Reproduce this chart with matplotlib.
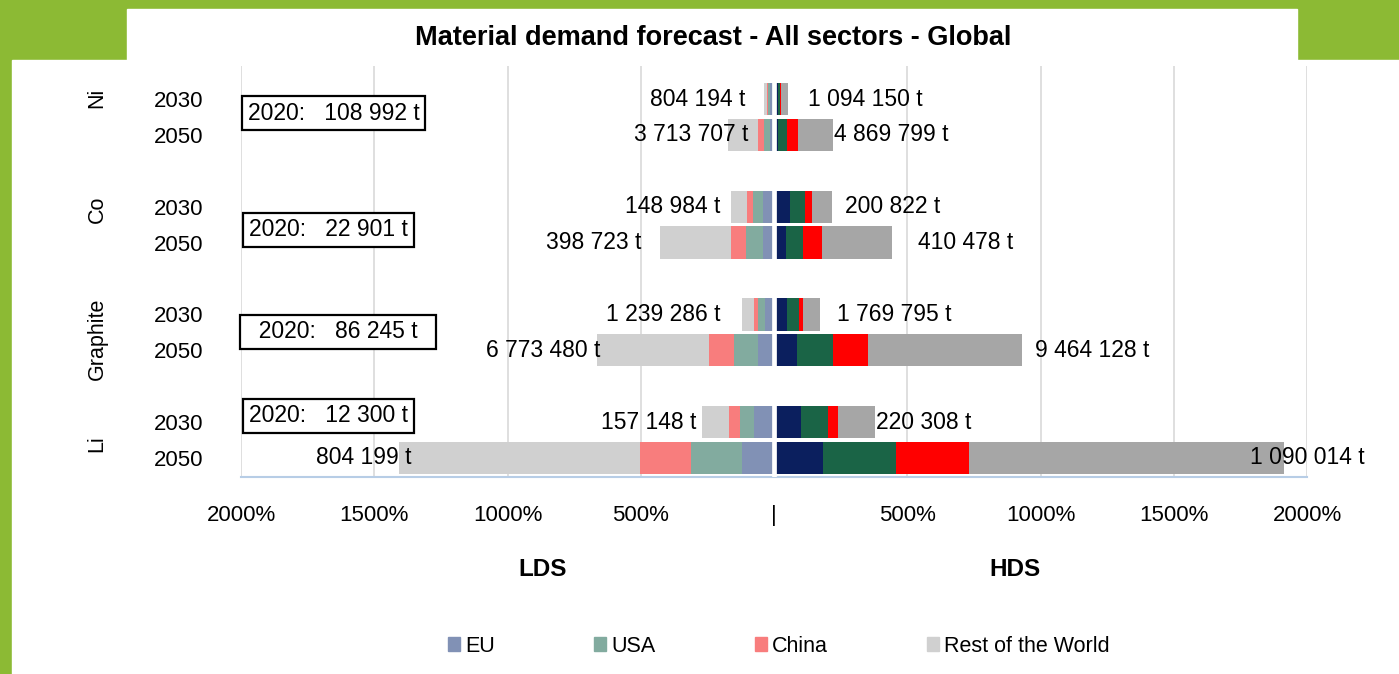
import numpy as np
import matplotlib.pyplot as plt
from matplotlib.patches import Patch, Rectangle

plt.rcParams['font.family'] = ['Liberation Sans', 'DejaVu Sans']

# --- data (growth compared to 2020, in %)

materials = ['Ni', 'Co', 'Graphite', 'Li']
years = ['2030', '2050']
regions = ['EU', 'USA', 'China', 'Rest of the World']

# rows: Ni 2030, Ni 2050, Co 2030, Co 2050, Graphite 2030, Graphite 2050, Li 2030, Li 2050
lds_eu = [15, 15, 40, 40, 34, 61, 74, 121]
lds_usa = [7, 22, 37, 65, 27, 89, 54, 192]
lds_china = [4, 24, 25, 57, 13, 93, 40, 190]
lds_row = [11, 112, 59, 265, 45, 420, 104, 905]

hds_eu = [14, 15, 60, 44, 48, 87, 101, 184]
hds_usa = [9, 34, 56, 66, 47, 133, 102, 273]
hds_china = [3, 40, 25, 69, 15, 134, 37, 273]
hds_row = [25, 134, 75, 265, 63, 575, 140, 1182]

lds_tonnes = ['804 194 t', '3 713 707 t', '148 984 t', '398 723 t',
              '1 239 286 t', '6 773 480 t', '157 148 t', '804 199 t']
hds_tonnes = ['1 094 150 t', '4 869 799 t', '200 822 t', '410 478 t',
              '1 769 795 t', '9 464 128 t', '220 308 t', '1 090 014 t']
base_2020 = ['108 992 t', '22 901 t', '86 245 t', '12 300 t']

xticks = [-2000, -1500, -1000, -500, 0, 500, 1000, 1500, 2000]
xticklabels = ['2000%', '1500%', '1000%', '500%', '|', '500%', '1000%', '1500%', '2000%']

lds_colors = ['#8191b5', '#82ab9f', '#f87d7d', '#d0d0d0']
hds_colors = ['#0b1f5e', '#1a6446', '#ff0000', '#a6a6a6']
green = '#8cba34'

# --- layout helpers (pixels -> figure fraction)

W, H = 1399, 674
def fx(px): return px / W
def fy(py): return 1 - py / H
def px2pct(px): return (px - 774) / 533. * 2000

fig = plt.figure(figsize=(W / 100, H / 100), dpi=100, facecolor=green)

fig.patches.append(Rectangle((fx(127), fy(60)), fx(1297) - fx(127), fy(9) - fy(60),
                             transform=fig.transFigure, color='white', zorder=-2))
fig.patches.append(Rectangle((fx(12), 0), 1 - fx(12), fy(60),
                             transform=fig.transFigure, color='white', zorder=-2))

ax = fig.add_axes((fx(241), fy(477), fx(1307) - fx(241), fy(66) - fy(477)))
ax.set_facecolor('white')

# y positions: 3 slots per material (2030, 2050, gap)
ypos = []
for g in range(len(materials)):
    base = (len(materials) - 1 - g) * 3
    ypos += [base + 1, base]
ypos = np.array(ypos)

bar_h = 0.9
lds = [lds_eu, lds_usa, lds_china, lds_row]
hds = [hds_eu, hds_usa, hds_china, hds_row]

cum = np.zeros(len(ypos))
for vals, c in zip(lds, lds_colors):
    v = np.array(vals)
    ax.barh(ypos, v, left=-cum - v, height=bar_h, color=c, zorder=2)
    cum += v

cum = np.zeros(len(ypos))
for vals, c in zip(hds, hds_colors):
    v = np.array(vals)
    ax.barh(ypos, v, left=cum, height=bar_h, color=c, zorder=2)
    cum += v

ax.axvline(0, color='white', lw=3.4, zorder=3)

# --- total labels
fs = 16.5
lds_lab_x = [745, 748, 720, 641, 720, 600, 696, 412]
hds_lab_x = [808, 834, 845, 918, 837, 1035, 876, 1250]
for i, y in enumerate(ypos):
    ax.text(px2pct(lds_lab_x[i]), y, lds_tonnes[i], ha='right', va='center', fontsize=fs, zorder=4)
    ax.text(px2pct(hds_lab_x[i]), y, hds_tonnes[i], ha='left', va='center', fontsize=fs, zorder=4)

# --- axes styling
ax.set_xlim(-2000, 2000)
ax.set_ylim(-0.53, 10.92)
ax.set_xticks(xticks)
ax.set_xticklabels(xticklabels, fontsize=16)
ax.set_yticks(ypos)
ax.set_yticklabels(years * len(materials), fontsize=16)
ax.tick_params(axis='both', length=0)
ax.tick_params(axis='x', pad=20)
ax.tick_params(axis='y', pad=27)
for gx in xticks:
    if gx != 0:
        ax.axvline(gx, color='#d9d9d9', lw=1.2, zorder=1)
for s in ['left', 'right', 'top']:
    ax.spines[s].set_visible(False)
ax.spines['bottom'].set_color('#b7cde6')
ax.spines['bottom'].set_linewidth(1.5)

# --- material names
mat_y = [98, 209, 339, 444]
for name, yy in zip(materials, mat_y):
    fig.text(fx(97), fy(yy), name, rotation=90, ha='center', va='center', fontsize=15.5)

# --- 2020 boxes
box_x = [248, 249, 246, 249]
box_y = [113, 230, 332, 416]
box_txt = ['2020:   ' + base_2020[0], '2020:   ' + base_2020[1],
           '  2020:   ' + base_2020[2] + '  ', '2020:   ' + base_2020[3]]
for t, bx, by in zip(box_txt, box_x, box_y):
    fig.text(fx(bx), fy(by), t, ha='left', va='center', fontsize=fs,
             bbox=dict(boxstyle='square,pad=0.25', fc='white', ec='black', lw=1.6))

# --- title and scenario labels
fig.text(fx(713), fy(38), 'Material demand forecast - All sectors - Global',
         ha='center', va='center', fontsize=19.5, fontweight='bold')
fig.text(fx(543), fy(570), 'LDS', ha='center', va='center', fontsize=17.5, fontweight='bold')
fig.text(fx(1015), fy(570), 'HDS', ha='center', va='center', fontsize=17.5, fontweight='bold')

# --- legend
handles = [Patch(color=c) for c in lds_colors]
fig.legend(handles, regions, loc='center', bbox_to_anchor=(fx(779), fy(646)), ncol=4,
           frameon=False, fontsize=15.5, columnspacing=4.6, handlelength=0.55,
           handleheight=0.6, handletextpad=0.25)

fig.savefig('out.png', dpi=100, facecolor=fig.get_facecolor())
